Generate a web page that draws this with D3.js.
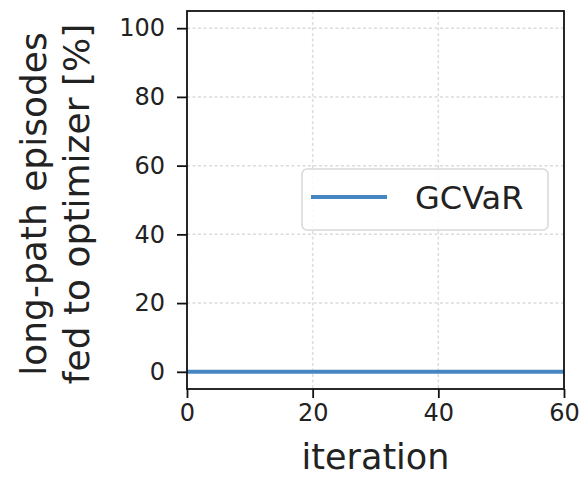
<!DOCTYPE html>
<html>
<head>
<meta charset="utf-8">
<script src="https://cdn.jsdelivr.net/npm/d3@7"></script>
<style>
  body{margin:0;background:#fff;}
  text{font-family:"DejaVu Sans",sans-serif;fill:#222;}
</style>
</head>
<body>
<div class="chart"></div>
<script>
// values
const iterations = [0,10,20,30,40,50,60];
const gcvar = [0,0,0,0,0,0,0];
const xTicks = [0,20,40,60];
const yTicks = [0,20,40,60,80,100];
const seriesName = "GCVaR";

const W = 583, H = 478;
const margin = {left:187, top:11, right:19, bottom:89};
const iw = W - margin.left - margin.right;
const ih = H - margin.top - margin.bottom;

const svg = d3.select(".chart").append("svg").attr("width",W).attr("height",H);
const g = svg.append("g").attr("transform",`translate(${margin.left},${margin.top})`);

const x = d3.scaleLinear().domain([0,60]).range([0,iw]);
const y = d3.scaleLinear().domain([-5,105]).range([ih,0]);

// grid
g.append("g").selectAll("line").data(yTicks).join("line")
  .attr("x1",0).attr("x2",iw).attr("y1",d=>y(d)).attr("y2",d=>y(d))
  .attr("stroke","#dcdcdc").attr("stroke-width",1.5).attr("stroke-dasharray","3,2.5");
g.append("g").selectAll("line").data(xTicks).join("line")
  .attr("y1",0).attr("y2",ih).attr("x1",d=>x(d)).attr("x2",d=>x(d))
  .attr("stroke","#dcdcdc").attr("stroke-width",1.5).attr("stroke-dasharray","3,2.5");

// series
const line = d3.line().x((d,i)=>x(iterations[i])).y(d=>y(d));
g.append("path").datum(gcvar).attr("d",line)
  .attr("fill","none").attr("stroke","#4586c3").attr("stroke-width",4);

// axes
const xAxis = g.append("g").attr("transform",`translate(0,${ih})`)
  .call(d3.axisBottom(x).tickValues(xTicks).tickSize(9).tickPadding(6).tickFormat(d3.format("d")));
const yAxis = g.append("g")
  .call(d3.axisLeft(y).tickValues(yTicks).tickSize(10).tickPadding(12).tickFormat(d3.format("d")));
[xAxis,yAxis].forEach(a=>{
  a.select(".domain").remove();
  a.selectAll("line").attr("stroke","#111").attr("stroke-width",1.8);
  a.selectAll("text").style("font-size","24px").attr("fill","#222");
});

// frame
g.append("rect").attr("width",iw).attr("height",ih)
  .attr("fill","none").attr("stroke","#111").attr("stroke-width",1.8);

// labels
svg.append("text").attr("x",margin.left+iw/2).attr("y",469)
  .attr("text-anchor","middle").style("font-size","35px").text("iteration");
const yl = svg.append("text").attr("transform",`translate(0,${margin.top+ih/2 + 4}) rotate(-90)`)
  .attr("text-anchor","middle").style("font-size","36px");
yl.append("tspan").attr("x",0).attr("y",46).text("long-path episodes");
yl.append("tspan").attr("x",0).attr("y",89).text("fed to optimizer [%]");

// legend
const lg = svg.append("g").attr("transform","translate(302,169)");
lg.append("rect").attr("width",246).attr("height",61).attr("rx",5)
  .attr("fill","#fff").attr("fill-opacity",0.85).attr("stroke","#d8d8d8").attr("stroke-width",1.5);
lg.append("line").attr("x1",9).attr("x2",85).attr("y1",28).attr("y2",28)
  .attr("stroke","#4586c3").attr("stroke-width",4);
lg.append("text").attr("x",113).attr("y",40).style("font-size","32px").text(seriesName);
</script>
</body>
</html>
